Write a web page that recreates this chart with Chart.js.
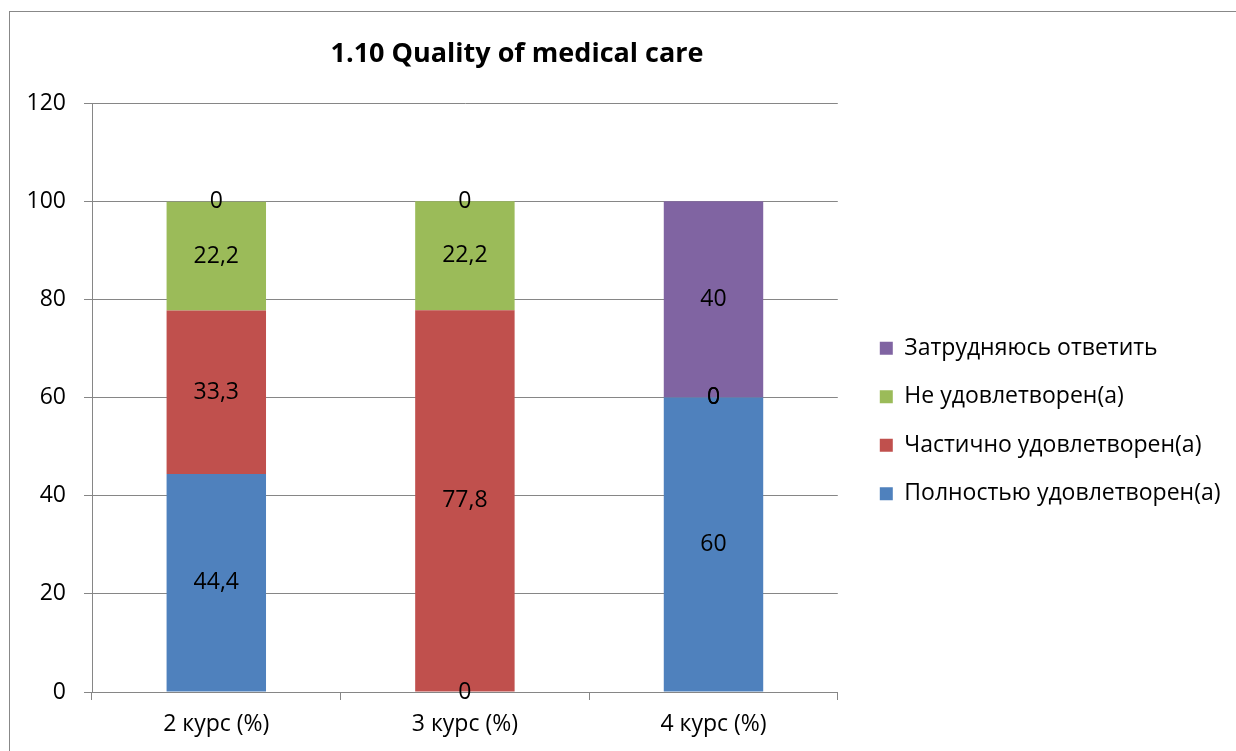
<!DOCTYPE html>
<html>
<head>
<meta charset="utf-8">
<script src="https://cdn.jsdelivr.net/npm/chart.js@4"></script>
<style>
body{margin:0;background:#fff;}
#frame{position:absolute;left:9px;top:11px;width:1240px;height:760px;border:1px solid #888;}
#chart{position:absolute;left:0;top:0;}
#title{position:absolute;left:267px;top:35px;width:500px;text-align:center;font:bold 27px "Open Sans";line-height:34px;color:#000;}
</style>
</head>
<body>
<div id="frame"></div>
<canvas id="chart" width="1236" height="751"></canvas>
<div id="title">1.10 Quality of medical care</div>
<script>

const categories=["2 курс (%)","3 курс (%)","4 курс (%)"]
const seriesNames=["Полностью удовлетворен(а)","Частично удовлетворен(а)","Не удовлетворен(а)","Затрудняюсь ответить"]
const fullySatisfied=[44.4,0,60]
const partlySatisfied=[33.3,77.8,0]
const notSatisfied=[22.2,22.2,0]
const hardToSay=[0,0,40]
const yTicks=[0,20,40,60,80,100,120]

const colors=["#4F81BD","#C0504D","#9BBB59","#8064A2"]
const FONT="Open Sans"
const FS=23
const GRID="#868686"

// value labels centred in each segment, like Excel data labels
const barLabels={
id:"barLabels",
afterDatasetsDraw(chart){
const ctx=chart.ctx
ctx.save()
ctx.font=`${FS}px "${FONT}"`
ctx.fillStyle="#000"
ctx.textAlign="center"
ctx.textBaseline="middle"
chart.data.datasets.forEach((ds,i)=>{
chart.getDatasetMeta(i).data.forEach((bar,j)=>{
const label=String(ds.data[j]).replace(".",",")
ctx.fillText(label,bar.x,(bar.y+bar.base)/2)
})
})
ctx.restore()
}
}

const seriesData=[fullySatisfied,partlySatisfied,notSatisfied,hardToSay]

new Chart(document.getElementById("chart"),{
type:"bar",
data:{
labels:categories,
datasets:seriesNames.map((name,i)=>({
label:name,
data:seriesData[i],
backgroundColor:colors[i],
yAxisID:"y",
categoryPercentage:1,
barPercentage:0.4
}))
},
options:{
responsive:false,
animation:false,
devicePixelRatio:1,
layout:{padding:{top:103,right:5.5,bottom:12,left:0}},
plugins:{
title:{display:false},
tooltip:{enabled:false},
legend:{
position:"right",
reverse:true,
maxWidth:500,
labels:{
boxWidth:13,
boxHeight:13,
padding:25.5,
color:"#000",
font:{family:FONT,size:FS}
}
}
},
scales:{
x:{
stacked:true,
grid:{display:true,drawOnChartArea:false,tickLength:8,color:GRID,offset:true},
border:{display:true,color:GRID},
ticks:{color:"#000",padding:11,font:{family:FONT,size:FS}},
afterFit(s){s.height=47}
},
y:{
stacked:true,
min:yTicks[0],
max:yTicks[yTicks.length-1],
grid:{color:GRID,tickLength:8},
border:{display:true,color:GRID},
ticks:{stepSize:yTicks[1]-yTicks[0],color:"#000",padding:18,font:{family:FONT,size:FS}},
afterFit(s){s.width=92}
},
gap:{
type:"linear",
position:"right",
grid:{display:false,drawTicks:false},
border:{display:false},
ticks:{display:false},
afterFit(s){s.width=16.5}
}
}
},
plugins:[barLabels]
})

</script>
</body>
</html>
